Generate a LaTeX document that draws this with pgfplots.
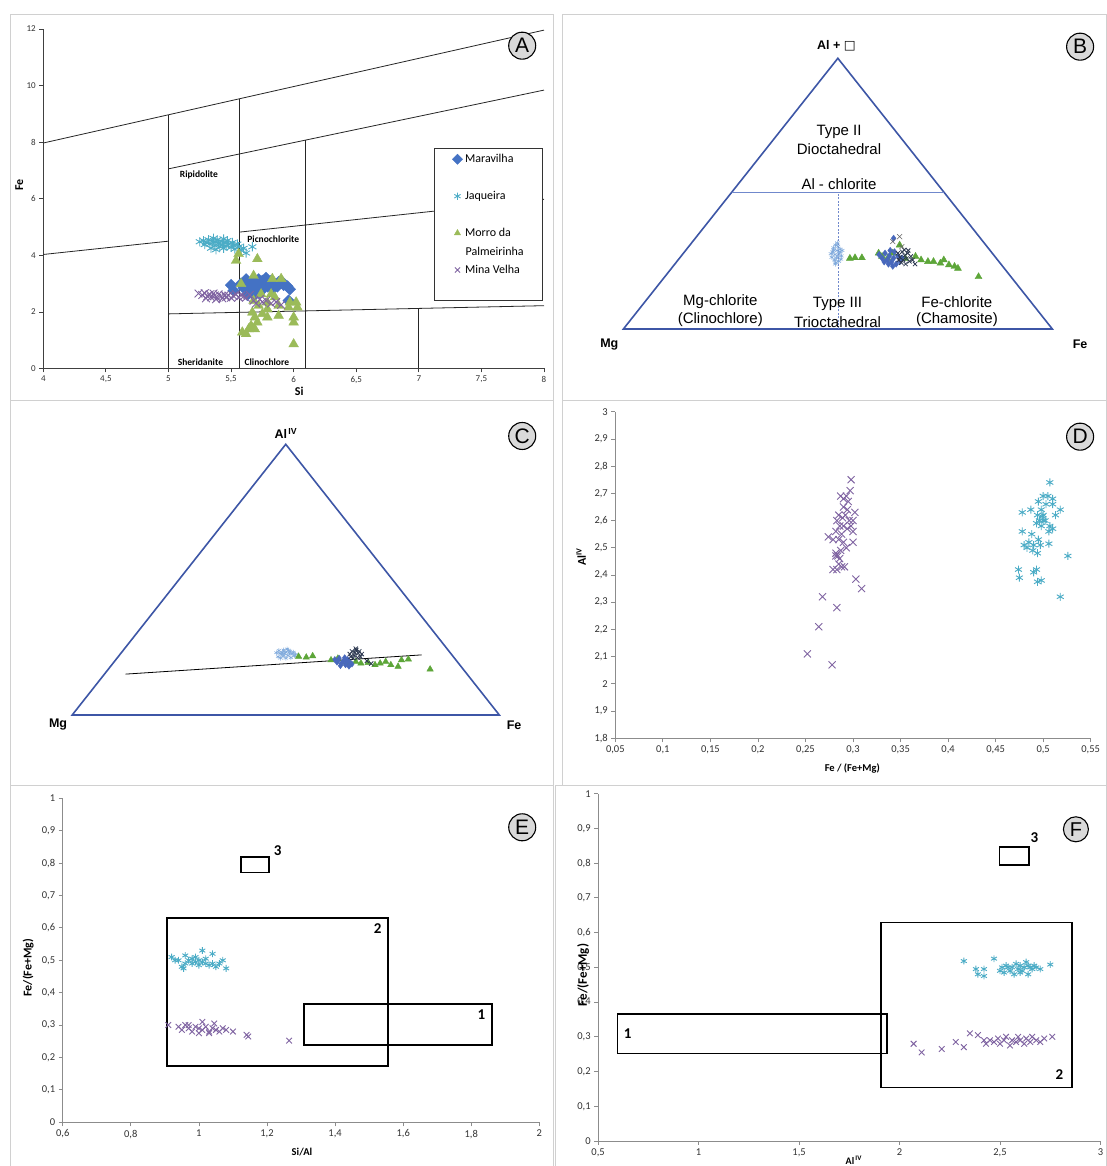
\documentclass[border=0pt]{standalone}
\usepackage{fontspec}
\setmainfont{Carlito}
\newfontfamily\arial{Liberation Sans}
\newfontfamily\dejavu{DejaVu Sans}
\usepackage{pgfplots}
\pgfplotsset{compat=1.18}
\definecolor{mara}{HTML}{4472C4}
\definecolor{jaq}{HTML}{4BACC6}
\definecolor{morro}{HTML}{9BBB59}
\definecolor{mina}{HTML}{8064A2}
\definecolor{tri}{HTML}{3D56A6}
\definecolor{tline}{HTML}{7088CC}
\definecolor{tlb}{HTML}{7EA9DC}
\definecolor{tgr}{HTML}{5DA639}
\definecolor{tbl}{HTML}{4868BC}
\definecolor{tnv}{HTML}{2C3850}
\definecolor{axgray}{HTML}{8C8C8C}
\definecolor{fr}{HTML}{D0D0D0}
\pgfplotsset{
  onemark/.style={only marks, legend image code/.code={\draw[##1] plot coordinates {(0pt,0pt)};}},
  excel/.style={scale only axis, axis lines=left, axis line style={-,axgray,line width=0.8pt},
    tick align=outside, major tick length=4pt, tick style={axgray,line width=0.8pt},
    ticklabel style={font=\fontsize{10.5}{12}\selectfont, text=black!80},
    /pgf/number format/use comma, /pgf/number format/assume math mode=true,
    /pgf/number format/fixed, /pgf/number format/precision=2,
    xticklabel={\pgfmathprintnumber[assume math mode=true,fixed,precision=2]{\tick}},
    yticklabel={\pgfmathprintnumber[assume math mode=true,fixed,precision=2]{\tick}},
    scaled ticks=false,
    clip=false, label style={font=\bfseries\fontsize{12}{14}\selectfont}},
  tern/.style={scale only axis, axis lines=none, xmin=0,xmax=1,ymin=0,ymax=1, clip=false},
  mmara/.style={onemark, mark=square*, mark options={rotate=45, fill=mara, draw=mara}},
  mjaq/.style={onemark, mark=asterisk, mark options={draw=jaq, line width=0.9pt}},
  mmorro/.style={onemark, mark=triangle*, mark options={fill=morro, draw=morro}},
  mmina/.style={onemark, mark=x, mark options={draw=mina, line width=0.9pt}},
}
\tikzset{circ/.style={circle, draw=black, line width=1.1pt, fill=black!15, minimum size=27pt, inner sep=0pt, font=\arial\fontsize{21}{21}\selectfont}}
\begin{document}
\begin{tikzpicture}
\fill[white] (0pt,0pt) rectangle (1106pt,1166pt);
\draw[fr, line width=0.6pt] (10.6pt,1152pt) rectangle (553pt,766pt);
\draw[fr, line width=0.6pt] (561.8pt,1152pt) rectangle (1106pt,766pt);
\draw[fr, line width=0.6pt] (10.6pt,766pt) rectangle (553pt,381pt);
\draw[fr, line width=0.6pt] (561.8pt,766pt) rectangle (1106pt,381pt);
\draw[fr, line width=0.6pt] (10.6pt,381pt) rectangle (553pt,0pt);
\draw[fr, line width=0.6pt] (555pt,381pt) rectangle (1106pt,0pt);

% ---------------- Panel A ----------------
\begin{axis}[excel, at={(43.3pt,797.5pt)}, anchor=south west, width=500.7pt, height=339.5pt,
  xmin=4, xmax=8, ymin=0, ymax=12, xtick={4,4.5,5,5.5,6,6.5,7,7.5,8}, ytick={0,2,4,6,8,10,12},
  axis line style={-,black!75,line width=0.8pt}, tick style={black!75},
  ticklabel style={font=\fontsize{9}{10}\selectfont},
  xlabel={Si}, ylabel={Fe},
  xlabel style={at={(axis description cs:0.511,-0.066)}, anchor=center},
  ylabel style={at={(axis description cs:-0.048,0.540)}, anchor=center},
  legend cell align=left,
  legend image post style={mark size=3.6},
  legend style={at={(rel axis cs:0.817,0.6705)}, anchor=north west, draw=none, fill=none, inner sep=0pt, outer sep=0pt, row sep=0pt, column sep=2.5pt, font=\fontsize{12}{14}\selectfont, nodes={inner sep=0pt, minimum height=36.9pt}},
]
\addplot[black!85, line width=0.8pt, forget plot] coordinates {(4,7.97) (8,11.96)};
\addplot[black!85, line width=0.8pt, forget plot] coordinates {(5.004,7.06) (8,9.84)};
\addplot[black!85, line width=0.8pt, forget plot] coordinates {(4,4.03) (5,4.5)};
\addplot[black!85, line width=0.8pt, forget plot] coordinates {(5.567,4.82) (8,5.98)};
\addplot[black!85, line width=0.8pt, forget plot] coordinates {(5,1.93) (8,2.22)};
\addplot[black!85, line width=0.8pt, forget plot] coordinates {(5,0) (5,8.95)};
\addplot[black!85, line width=0.8pt, forget plot] coordinates {(5.567,0) (5.567,9.54)};
\addplot[black!85, line width=0.8pt, forget plot] coordinates {(6.096,0) (6.096,8.07)};
\addplot[black!85, line width=0.8pt, forget plot] coordinates {(7,0) (7,2.10)};
\draw[draw=black!80, fill=white, line width=0.7pt] (rel axis cs:0.7803,0.6495) rectangle (rel axis cs:0.996,0.2018);
\node[font=\bfseries\fontsize{9.5}{11}\selectfont] at (axis cs:5.243,6.83) {Ripidolite};
\node[font=\bfseries\fontsize{9.5}{11}\selectfont] at (axis cs:5.837,4.58) {Picnochlorite};
\node[font=\bfseries\fontsize{9.5}{11}\selectfont] at (axis cs:5.255,0.236) {Sheridanite};
\node[font=\bfseries\fontsize{9.5}{11}\selectfont] at (axis cs:5.786,0.236) {Clinochlore};
\addplot[mmara, mark size=4.1] coordinates {
(5.50,2.95)(5.52,2.75)(5.58,3.0)(5.60,2.85)(5.62,3.15)(5.64,3.05)(5.65,2.9)(5.66,2.7)
(5.68,3.1)(5.70,3.0)(5.71,2.8)(5.72,3.15)(5.74,2.95)(5.75,3.1)(5.76,2.85)(5.77,3.05)
(5.78,3.2)(5.79,2.9)(5.80,3.0)(5.82,3.1)(5.83,2.8)(5.85,3.0)(5.87,2.9)(5.88,3.05)
(5.90,3.1)(5.92,2.95)(5.95,2.9)(5.97,2.8)(5.96,2.4)(5.73,2.7)(5.69,2.6)(5.63,2.6)};
\addlegendentry{Maravilha}
\addplot[mjaq, mark size=4.6] coordinates {
(5.25,4.48)(5.28,4.52)(5.30,4.45)(5.32,4.55)(5.33,4.40)(5.35,4.50)(5.36,4.60)(5.37,4.35)
(5.38,4.47)(5.39,4.55)(5.40,4.42)(5.41,4.30)(5.42,4.50)(5.43,4.38)(5.44,4.58)(5.45,4.45)
(5.46,4.33)(5.47,4.52)(5.48,4.40)(5.50,4.28)(5.51,4.45)(5.52,4.35)(5.53,4.22)(5.55,4.40)
(5.56,4.30)(5.58,4.18)(5.60,4.25)(5.62,4.08)(5.67,4.30)(5.34,4.25)(5.38,4.20)(5.29,4.38)(5.44,4.25)};
\addlegendentry{Jaqueira}
\addplot[mmorro, mark size=5.6] coordinates {
(5.54,3.81)(5.56,4.05)(5.71,3.87)(5.58,2.99)(5.68,3.28)(5.83,3.17)(5.90,3.17)(5.74,2.63)
(5.82,2.63)(5.85,2.52)(5.68,2.40)(5.79,2.34)(5.72,2.22)(5.88,2.22)(5.97,2.34)(6.02,2.34)
(6.03,2.16)(5.67,1.98)(5.75,1.93)(5.79,1.81)(5.88,1.87)(6.0,1.81)(6.0,1.63)(5.59,1.28)
(5.64,1.39)(5.66,1.51)(5.69,1.39)(5.71,1.63)(5.62,1.22)(6.0,0.86)(5.96,2.16)(5.79,2.10)(5.69,1.81)};
\addlegendentry{Morro da}
\addplot[mmina, mark size=5.5] coordinates {
(5.24,2.65)(5.27,2.60)(5.29,2.66)(5.31,2.55)(5.33,2.62)(5.34,2.52)(5.36,2.65)(5.37,2.58)
(5.39,2.50)(5.40,2.62)(5.42,2.55)(5.43,2.48)(5.45,2.60)(5.46,2.52)(5.48,2.58)(5.50,2.50)
(5.52,2.56)(5.54,2.62)(5.56,2.52)(5.58,2.58)(5.60,2.55)(5.62,2.50)(5.65,2.60)(5.68,2.40)
(5.70,2.30)(5.73,2.45)(5.75,2.35)(5.78,2.40)(5.82,2.30)(5.86,2.35)(5.90,2.25)(5.38,2.45)(5.30,2.48)};
\addlegendentry{Mina Velha}
\node[anchor=west, font=\fontsize{12}{14}\selectfont, inner sep=0pt] at (rel axis cs:0.843,0.346) {Palmeirinha};
\end{axis}
\node[circ] at (522.2pt,1120.3pt) {A};

% ---------------- Panel B ----------------
\begin{axis}[tern, at={(623.4pt,837pt)}, anchor=south west, width=428.9pt, height=270.7pt]
\addplot[tri, line width=1.6pt, line join=miter] coordinates {(0,0) (1,0) (0.5,1)} -- cycle;
\addplot[tline, line width=0.7pt] coordinates {(0.2525,0.505) (0.7475,0.505)};
\addplot[tline, line width=0.7pt, dash pattern=on 2pt off 1.5pt] coordinates {(0.5,0) (0.5,0.505)};
\addplot[only marks, mark=asterisk, mark size=2.6, mark options={draw=tlb, line width=0.5pt}] coordinates {
(0.490,0.300)(0.495,0.310)(0.500,0.305)(0.505,0.295)(0.488,0.285)(0.493,0.275)(0.498,0.290)(0.503,0.280)
(0.508,0.270)(0.486,0.265)(0.492,0.255)(0.497,0.262)(0.502,0.250)(0.507,0.258)(0.495,0.245)(0.500,0.270)
(0.490,0.292)(0.505,0.285)(0.499,0.318)(0.494,0.240)(0.510,0.290)(0.484,0.278)};
\addplot[only marks, mark=triangle*, mark size=4, mark options={fill=tgr, draw=tgr}] coordinates {
(0.528,0.261)(0.540,0.263)(0.556,0.263)(0.595,0.280)(0.603,0.268)(0.616,0.261)(0.628,0.280)(0.657,0.261)
(0.681,0.268)(0.694,0.255)(0.710,0.249)(0.723,0.249)(0.739,0.243)(0.747,0.255)(0.759,0.237)(0.772,0.231)
(0.780,0.224)(0.828,0.193)(0.644,0.310)};
\addplot[only marks, mark=diamond*, mark size=3.2, mark options={fill=tbl, draw=tbl}] coordinates {
(0.596,0.275)(0.603,0.262)(0.610,0.280)(0.615,0.255)(0.620,0.270)(0.625,0.248)(0.630,0.262)(0.632,0.285)
(0.636,0.240)(0.640,0.270)(0.645,0.250)(0.618,0.240)(0.628,0.232)(0.650,0.262)(0.608,0.248)(0.622,0.290)(0.630,0.335)};
\addplot[only marks, mark=x, mark size=3, mark options={draw=tnv, line width=0.8pt}] coordinates {
(0.640,0.280)(0.645,0.265)(0.650,0.285)(0.652,0.255)(0.656,0.272)(0.660,0.260)(0.663,0.280)(0.667,0.250)
(0.648,0.245)(0.658,0.240)(0.670,0.268)(0.655,0.292)(0.642,0.255)(0.664,0.290)(0.674,0.255)(0.680,0.240)};
\addplot[only marks, mark=x, mark size=3.5, mark options={draw=black!60, line width=0.6pt}] coordinates {
(0.644,0.341)(0.628,0.323)(0.649,0.304)};
\end{axis}
\begin{scope}[font=\arial\fontsize{15}{17}\selectfont]
\node at (839pt,1034.3pt) {Type II};
\node at (839pt,1017pt) {Dioctahedral};
\node at (839pt,982pt) {Al - chlorite};
\node at (720.3pt,864.3pt) {Mg-chlorite};
\node at (720.3pt,846.7pt) {(Clinochlore)};
\node at (837.5pt,862pt) {Type III};
\node at (837.5pt,844.3pt) {Trioctahedral};
\node at (956.9pt,864.3pt) {Fe-chlorite};
\node at (956.9pt,846.7pt) {(Chamosite)};
\end{scope}
\node[font=\arial\bfseries\fontsize{12.5}{14}\selectfont] at (836.4pt,1120pt) {Al + {\dejavu\mdseries □}};
\node[font=\arial\bfseries\fontsize{12.5}{14}\selectfont] at (609.3pt,821.7pt) {Mg};
\node[font=\arial\bfseries\fontsize{12.5}{14}\selectfont] at (1080.1pt,821.7pt) {Fe};
\node[circ] at (1080.1pt,1119.3pt) {B};

% ---------------- Panel C ----------------
\begin{axis}[tern, at={(72.2pt,451pt)}, anchor=south west, width=427.1pt, height=270.7pt]
\addplot[tri, line width=1.6pt, line join=miter] coordinates {(0,0) (1,0) (0.5,1)} -- cycle;
\addplot[only marks, mark=asterisk, mark size=2.4, mark options={draw=tlb, line width=0.5pt}] coordinates {
(0.478,0.230)(0.484,0.238)(0.490,0.225)(0.495,0.240)(0.500,0.232)(0.505,0.220)(0.510,0.236)(0.515,0.226)
(0.520,0.218)(0.482,0.215)(0.488,0.210)(0.494,0.218)(0.500,0.210)(0.506,0.238)(0.512,0.212)(0.518,0.232)
(0.497,0.226)(0.503,0.244)(0.486,0.228)(0.509,0.228)(0.492,0.232)(0.523,0.224)};
\addplot[only marks, mark=triangle*, mark size=3.7, mark options={fill=tgr, draw=tgr}] coordinates {
(0.530,0.216)(0.548,0.213)(0.563,0.218)(0.606,0.203)(0.622,0.209)(0.643,0.191)(0.664,0.197)(0.676,0.191)
(0.693,0.193)(0.709,0.185)(0.721,0.191)(0.734,0.197)(0.746,0.185)(0.763,0.179)(0.771,0.203)(0.787,0.206)(0.838,0.169)};
\addplot[only marks, mark=diamond*, mark size=3, mark options={fill=tbl, draw=tbl}] coordinates {
(0.615,0.205)(0.620,0.195)(0.625,0.210)(0.630,0.190)(0.635,0.200)(0.640,0.185)(0.645,0.205)(0.650,0.195)
(0.655,0.188)(0.628,0.182)(0.638,0.212)(0.648,0.180)(0.622,0.200)(0.642,0.196)};
\addplot[only marks, mark=x, mark size=3, mark options={draw=tnv, line width=0.8pt}] coordinates {
(0.650,0.225)(0.655,0.235)(0.660,0.220)(0.665,0.240)(0.670,0.228)(0.675,0.215)(0.658,0.210)(0.668,0.212)
(0.662,0.230)(0.652,0.215)(0.672,0.235)(0.664,0.245)(0.678,0.225)(0.690,0.200)(0.700,0.190)};
\addplot[black, line width=0.8pt] coordinates {(0.125,0.151) (0.818,0.222)};
\end{axis}
\node[font=\arial\bfseries\fontsize{12.5}{14}\selectfont] at (285.9pt,732.7pt) {Al\textsuperscript{\,IV}};
\node[font=\arial\bfseries\fontsize{12.5}{14}\selectfont] at (58.1pt,441pt) {Mg};
\node[font=\arial\bfseries\fontsize{12.5}{14}\selectfont] at (514.1pt,441pt) {Fe};
\node[circ] at (522.2pt,730pt) {C};

% ---------------- Panel D ----------------
\begin{axis}[excel, at={(615.3pt,427.7pt)}, anchor=south west, width=475.4pt, height=326.6pt,
  xmin=0.05, xmax=0.55, ymin=1.8, ymax=3,
  xtick={0.05,0.1,0.15,0.2,0.25,0.3,0.35,0.4,0.45,0.5,0.55},
  ytick={1.8,1.9,2,2.1,2.2,2.3,2.4,2.5,2.6,2.7,2.8,2.9,3},
  xlabel={Fe / (Fe+Mg)}, ylabel={Al\textsuperscript{IV}},
  xlabel style={at={(axis description cs:0.4985,-0.092)}, anchor=center, font=\bfseries\fontsize{10.5}{12}\selectfont},
  ylabel style={at={(axis description cs:-0.0717,0.556)}, anchor=center},
]
\addplot[mmina, mark size=5] coordinates {
(0.298,2.75)(0.297,2.71)(0.287,2.69)(0.29,2.68)(0.293,2.69)(0.295,2.67)(0.29,2.65)(0.294,2.64)
(0.302,2.63)(0.285,2.62)(0.289,2.61)(0.292,2.62)(0.296,2.6)(0.3,2.6)(0.283,2.6)(0.286,2.58)
(0.29,2.58)(0.294,2.57)(0.298,2.58)(0.3,2.56)(0.288,2.55)(0.282,2.56)(0.285,2.53)(0.274,2.54)
(0.279,2.53)(0.29,2.52)(0.3,2.52)(0.293,2.5)(0.287,2.49)(0.282,2.48)(0.284,2.47)(0.286,2.46)
(0.282,2.47)(0.285,2.44)(0.288,2.43)(0.291,2.43)(0.279,2.42)(0.283,2.42)(0.303,2.385)(0.309,2.35)
(0.268,2.32)(0.283,2.28)(0.264,2.21)(0.252,2.11)(0.278,2.07)};
\addplot[mjaq, mark size=4] coordinates {
(0.507,2.74)(0.5,2.69)(0.505,2.69)(0.51,2.68)(0.495,2.67)(0.503,2.66)(0.51,2.66)(0.498,2.64)
(0.487,2.64)(0.478,2.63)(0.494,2.62)(0.5,2.62)(0.518,2.64)(0.513,2.62)(0.496,2.6)(0.5,2.6)
(0.493,2.59)(0.498,2.58)(0.507,2.58)(0.51,2.57)(0.506,2.56)(0.478,2.56)(0.488,2.55)(0.495,2.53)
(0.485,2.52)(0.49,2.51)(0.48,2.51)(0.497,2.51)(0.506,2.515)(0.483,2.5)(0.489,2.49)(0.494,2.48)
(0.474,2.42)(0.475,2.39)(0.49,2.41)(0.493,2.42)(0.494,2.375)(0.498,2.38)(0.526,2.47)(0.518,2.32)
(0.502,2.6)(0.499,2.615)};
\end{axis}
\node[circ] at (1080.1pt,729.3pt) {D};

% ---------------- Panel E ----------------
\begin{axis}[excel, at={(62.7pt,43.7pt)}, anchor=south west, width=476.7pt, height=324pt,
  xmin=0.6, xmax=2, ymin=0, ymax=1,
  xtick={0.6,0.8,1,1.2,1.4,1.6,1.8,2}, ytick={0,0.1,0.2,0.3,0.4,0.5,0.6,0.7,0.8,0.9,1},
  xlabel={Si/Al}, ylabel={Fe/(Fe+Mg)},
  xlabel style={at={(axis description cs:0.502,-0.0926)}, anchor=center, font=\bfseries\fontsize{10.5}{12}\selectfont},
  ylabel style={at={(axis description cs:-0.0724,0.477)}, anchor=center},
]
\addplot[black, line width=1.8pt] coordinates {(1.124,0.771)(1.207,0.771)(1.207,0.818)(1.124,0.818)} -- cycle;
\addplot[black, line width=1.8pt] coordinates {(0.907,0.174)(1.556,0.174)(1.556,0.630)(0.907,0.630)} -- cycle;
\addplot[black, line width=1.8pt] coordinates {(1.308,0.238)(1.860,0.238)(1.860,0.366)(1.308,0.366)} -- cycle;
\node[font=\bfseries\fontsize{15}{17}\selectfont] at (axis cs:1.231,0.838) {3};
\node[font=\bfseries\fontsize{15}{17}\selectfont] at (axis cs:1.525,0.597) {2};
\node[font=\bfseries\fontsize{15}{17}\selectfont] at (axis cs:1.830,0.331) {1};
\addplot[mjaq, mark size=3.4] coordinates {
(0.92,0.51)(0.94,0.50)(0.95,0.48)(0.96,0.515)(0.97,0.50)(0.98,0.49)(0.99,0.51)(1.00,0.50)
(1.01,0.53)(1.01,0.495)(1.02,0.49)(1.03,0.485)(1.04,0.52)(1.04,0.49)(1.05,0.48)(1.06,0.49)
(1.07,0.5)(1.08,0.475)(0.96,0.49)(0.98,0.505)(1.0,0.485)(0.955,0.475)(0.99,0.495)(1.02,0.505)(0.93,0.5)};
\addplot[mmina, mark size=4] coordinates {
(0.91,0.30)(0.94,0.295)(0.95,0.285)(0.96,0.30)(0.97,0.29)(0.98,0.28)(0.99,0.295)(1.00,0.29)
(1.01,0.31)(1.01,0.285)(1.02,0.295)(1.03,0.28)(1.04,0.29)(1.045,0.305)(1.05,0.285)(1.06,0.28)
(1.07,0.29)(1.08,0.285)(1.10,0.28)(1.14,0.27)(1.145,0.265)(1.265,0.252)(0.97,0.30)(1.0,0.275)(1.03,0.275)};
\end{axis}
\node[circ] at (522.2pt,338.7pt) {E};

% ---------------- Panel F ----------------
\begin{axis}[excel, at={(598.1pt,25pt)}, anchor=south west, width=502.4pt, height=347.3pt,
  xmin=0.5, xmax=3, ymin=0, ymax=1,
  xtick={0.5,1,1.5,2,2.5,3}, ytick={0,0.1,0.2,0.3,0.4,0.5,0.6,0.7,0.8,0.9,1},
  xlabel={Al\textsuperscript{\,IV}}, ylabel={Fe/(Fe+Mg)},
  xlabel style={at={(axis description cs:0.509,-0.055)}, anchor=center, font=\bfseries\fontsize{10}{11}\selectfont},
  ylabel style={at={(axis description cs:-0.030,0.478)}, anchor=center, font=\bfseries\fontsize{13}{15}\selectfont},
]
\addplot[black, line width=1.8pt] coordinates {(2.497,0.795)(2.646,0.795)(2.646,0.847)(2.497,0.847)} -- cycle;
\addplot[black, line width=1.8pt] coordinates {(1.909,0.154)(2.860,0.154)(2.860,0.629)(1.909,0.629)} -- cycle;
\addplot[black, line width=1.8pt] coordinates {(0.596,0.252)(1.937,0.252)(1.937,0.366)(0.596,0.366)} -- cycle;
\node[font=\bfseries\fontsize{15}{17}\selectfont] at (axis cs:2.671,0.873) {3};
\node[font=\bfseries\fontsize{15}{17}\selectfont] at (axis cs:2.795,0.190) {2};
\node[font=\bfseries\fontsize{15}{17}\selectfont] at (axis cs:0.647,0.310) {1};
\addplot[mjaq, mark size=3.4] coordinates {
(2.32,0.518)(2.38,0.495)(2.39,0.48)(2.42,0.495)(2.42,0.475)(2.47,0.525)(2.50,0.49)(2.51,0.50)
(2.52,0.485)(2.53,0.505)(2.55,0.49)(2.56,0.50)(2.57,0.48)(2.58,0.51)(2.59,0.495)(2.60,0.505)
(2.61,0.49)(2.62,0.50)(2.63,0.515)(2.64,0.48)(2.65,0.50)(2.66,0.495)(2.67,0.505)(2.68,0.50)
(2.70,0.495)(2.75,0.508)(2.54,0.5)(2.6,0.485)(2.64,0.505)};
\addplot[mmina, mark size=4] coordinates {
(2.07,0.28)(2.11,0.255)(2.21,0.265)(2.28,0.285)(2.32,0.27)(2.35,0.31)(2.39,0.305)(2.42,0.29)
(2.43,0.28)(2.45,0.29)(2.47,0.285)(2.49,0.295)(2.50,0.28)(2.52,0.29)(2.53,0.30)(2.55,0.275)
(2.56,0.29)(2.58,0.285)(2.59,0.30)(2.60,0.29)(2.62,0.28)(2.63,0.295)(2.65,0.285)(2.66,0.30)
(2.68,0.29)(2.70,0.285)(2.72,0.295)(2.76,0.30)};
\end{axis}
\node[circ, minimum size=25pt, font=\arial\fontsize{20}{20}\selectfont] at (1075.9pt,336.7pt) {F};
\pgfresetboundingbox
\path[use as bounding box] (0pt,0pt) rectangle (1106pt,1166pt);
\end{tikzpicture}
\end{document}
